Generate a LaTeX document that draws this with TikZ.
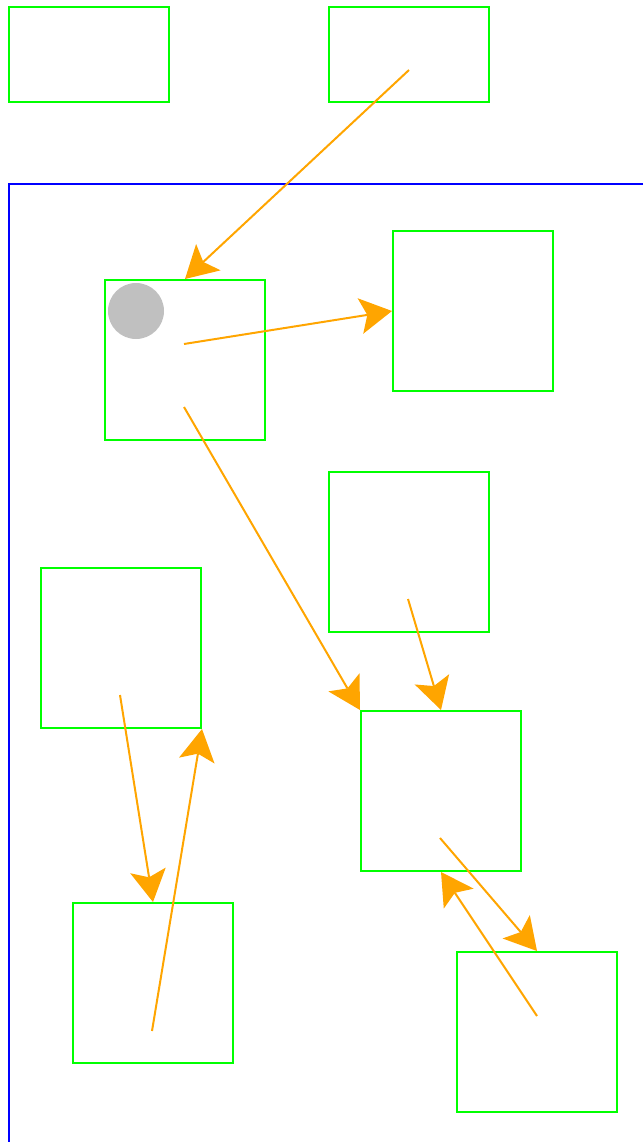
\documentclass[tikz,border=0pt]{standalone}
\usepackage{tikz}
\usetikzlibrary{arrows.meta,calc}
\definecolor{boxgreen}{RGB}{0,255,0}
\definecolor{framblue}{RGB}{0,0,255}
\definecolor{linkorange}{RGB}{255,165,0}
\definecolor{dotgray}{RGB}{192,192,192}
\tikzset{
    cell/.style={draw=boxgreen, line width=2pt, minimum width=160pt, minimum height=160pt, inner sep=0pt},
    flat/.style={cell, minimum height=95pt},
    link/.style={draw=linkorange, line width=2pt, -{Stealth[length=32pt, width=36pt, inset=7pt, line width=0pt, fill=linkorange]}}
}

\begin{document}
\begin{tikzpicture}[x=1pt, y=-1pt]
    \useasboundingbox (0,0) rectangle (643,1142);

    % Outer frame
    \draw[framblue, line width=2pt] (643,184) -- (9,184) -- (9,1142);

    % Top row
    \node[flat] (top1) at (89,54.5) {};
    \node[flat] (top2) at (409,54.5) {};

    % Boxes inside the frame
    \node[cell] (boxA) at (185,360) {};
    \node[cell] (boxB) at (473,311) {};
    \node[cell] (boxC) at (409,552) {};
    \node[cell] (boxD) at (121,648) {};
    \node[cell] (boxE) at (441,791) {};
    \node[cell] (boxF) at (153,983) {};
    \node[cell] (boxG) at (537,1032) {};

    % Grey dot
    \fill[dotgray] (136,311) circle (28pt);

    % Start points
    \coordinate (s1) at (409,70);
    \coordinate (s2) at (184,344);
    \coordinate (s3) at (184,407);
    \coordinate (s4) at (408,599);
    \coordinate (s5) at (120,695);
    \coordinate (s6) at (152,1031);
    \coordinate (s7) at (440,838);
    \coordinate (s8) at (537,1016);

    % Links
    \draw[link] (s1) -- (boxA.north);
    \draw[link] (s2) -- (boxB.west);
    \draw[link] (s3) -- (boxE.north west);
    \draw[link] (s4) -- (boxE.north);
    \draw[link] (s5) -- (boxF.north);
    \draw[link] (s6) -- (boxD.south east);
    \draw[link] (s7) -- (boxG.north);
    \draw[link] (s8) -- (boxE.south);
\end{tikzpicture}
\end{document}
